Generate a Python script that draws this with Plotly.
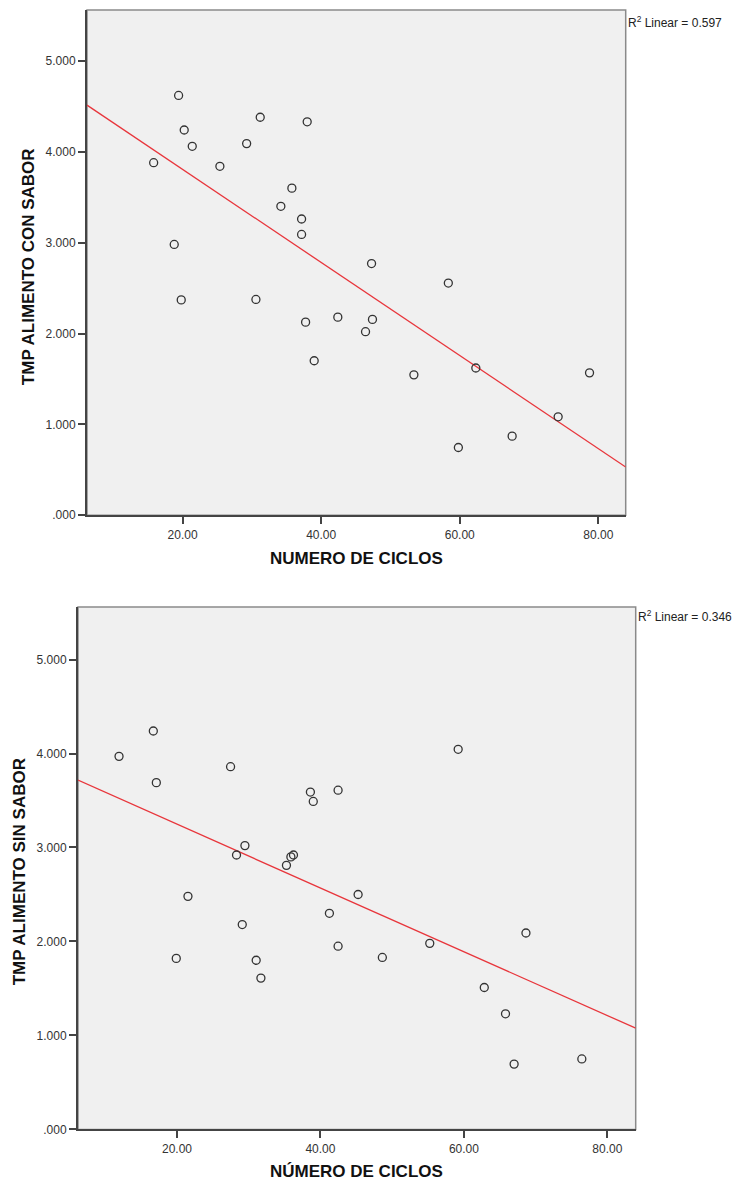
import numpy as np
import plotly.graph_objects as go

# ---- data ----
ciclos_con = [19.42, 31.2, 37.98, 20.23, 21.39, 29.24, 15.82, 25.38, 35.77, 34.18,
              37.17, 37.17, 18.79, 47.27, 58.35, 19.8, 30.58, 37.75, 42.4, 46.4,
              47.4, 38.99, 53.38, 62.32, 78.73, 74.2, 67.56, 59.8]
tmp_con = [4.62, 4.38, 4.33, 4.24, 4.06, 4.09, 3.88, 3.84, 3.60, 3.40,
           3.26, 3.09, 2.98, 2.77, 2.555, 2.37, 2.375, 2.125, 2.18, 2.02,
           2.155, 1.70, 1.545, 1.62, 1.567, 1.083, 0.87, 0.745]

ciclos_sin = [11.92, 16.7, 17.12, 27.47, 38.6, 39.0, 42.46, 29.47, 28.3, 35.26,
              35.88, 36.24, 59.2, 21.53, 45.25, 41.25, 29.1, 42.46, 19.9, 31.04,
              31.7, 48.63, 55.24, 68.65, 62.84, 65.8, 67.0, 76.44]
tmp_sin = [3.97, 4.24, 3.69, 3.86, 3.59, 3.49, 3.61, 3.02, 2.92, 2.81,
           2.90, 2.92, 4.045, 2.48, 2.50, 2.30, 2.18, 1.95, 1.82, 1.80,
           1.61, 1.83, 1.98, 2.09, 1.51, 1.23, 0.695, 0.75]

r2_con = "0.597"
r2_sin = "0.346"

x_ticks = [20, 40, 60, 80]
x_ticktext = ["20.00", "40.00", "60.00", "80.00"]
y_ticks = [0, 1, 2, 3, 4, 5]
y_ticktext = [".000", "1.000", "2.000", "3.000", "4.000", "5.000"]

x_range = [6.2, 83.95]
y_range = [0, 5.56]

# the page body adds an 8px margin, so the figure is offset by it
OFF = 8
W, H = 740 - OFF, 1185 - OFF
KY = 1.0063  # small vertical correction observed in the rendering


def px(x):
    return (x - OFF) / W


def py(y):
    return 1 - (y * KY - OFF) / H


FONT = "Liberation Sans, Arial, sans-serif"
RED = "#E8363C"
BG = "#F0F0F0"

fig = go.Figure()

panels = [
    dict(x=ciclos_con, y=tmp_con, r2=r2_con, xa="x", ya="y",
         dom_x=[px(87), px(625.7)], dom_y=[py(515), py(10)],
         ytitle="TMP ALIMENTO CON SABOR", xtitle="NUMERO DE CICLOS",
         xt=(356, 558.5), yt=(28, 267), r2pos=(626, 22)),
    dict(x=ciclos_sin, y=tmp_sin, r2=r2_sin, xa="x2", ya="y2",
         dom_x=[px(78), px(635.7)], dom_y=[py(1129), py(606.7)],
         ytitle="TMP ALIMENTO SIN SABOR", xtitle="NÚMERO DE CICLOS",
         xt=(356, 1171), yt=(19, 872), r2pos=(636, 616)),
]

layout_axes = {}
for i, p in enumerate(panels):
    sfx = "" if i == 0 else "2"
    slope, intercept = np.polyfit(np.array(p["x"]), np.array(p["y"]), 1)
    lx = np.array(x_range)
    ly = intercept + slope * lx
    fig.add_trace(go.Scatter(
        x=lx, y=ly, mode="lines", xaxis=p["xa"], yaxis=p["ya"],
        line=dict(color=RED, width=1.3), showlegend=False, hoverinfo="skip"))
    fig.add_trace(go.Scatter(
        x=p["x"], y=p["y"], mode="markers", xaxis=p["xa"], yaxis=p["ya"],
        marker=dict(symbol="circle-open", size=8, color="#333333",
                    line=dict(width=1.3, color="#333333")),
        showlegend=False))

    common = dict(
        tickmode="array", ticks="outside", ticklen=7, tickwidth=1.5,
        tickcolor="#444444", showgrid=False, zeroline=False, showline=True,
        linecolor="#444444", linewidth=2, mirror=False,
        tickfont=dict(family=FONT, size=12, color="#333333"))
    layout_axes["xaxis" + sfx] = dict(
        domain=p["dom_x"], range=x_range, anchor=p["ya"],
        tickvals=x_ticks, ticktext=x_ticktext, **common)
    layout_axes["yaxis" + sfx] = dict(
        domain=p["dom_y"], range=y_range, anchor=p["xa"],
        tickvals=y_ticks, ticktext=y_ticktext, **common)

shapes = []
annotations = []
for i, p in enumerate(panels):
    sfx = "" if i == 0 else "2"
    shapes.append(dict(type="rect", xref="x" + sfx + " domain", yref="y" + sfx + " domain",
                       x0=0, x1=1, y0=0, y1=1, fillcolor=BG,
                       line=dict(color="#8A8A8A", width=1.5), layer="below"))
    annotations.append(dict(
        text="R<sup>2</sup> Linear = " + p["r2"], xref="paper", yref="paper",
        x=px(p["r2pos"][0]), y=py(p["r2pos"][1]), xanchor="left", yanchor="middle",
        showarrow=False, font=dict(family=FONT, size=12, color="#222222")))
    annotations.append(dict(
        text="<b>" + p["xtitle"] + "</b>", xref="paper", yref="paper",
        x=px(p["xt"][0]), y=py(p["xt"][1]),
        xanchor="center", yanchor="middle", showarrow=False,
        font=dict(family=FONT, size=17, color="#111111")))
    annotations.append(dict(
        text="<b>" + p["ytitle"] + "</b>", xref="paper", yref="paper",
        x=px(p["yt"][0]), y=py(p["yt"][1]),
        xanchor="center", yanchor="middle", textangle=-90, showarrow=False,
        font=dict(family=FONT, size=17, color="#111111")))

fig.update_layout(
    width=W, height=H, margin=dict(l=0, r=0, t=0, b=0),
    paper_bgcolor="white", plot_bgcolor="rgba(0,0,0,0)",
    shapes=shapes, annotations=annotations, **layout_axes)

fig.write_html("out.html", config={"displayModeBar": False})
